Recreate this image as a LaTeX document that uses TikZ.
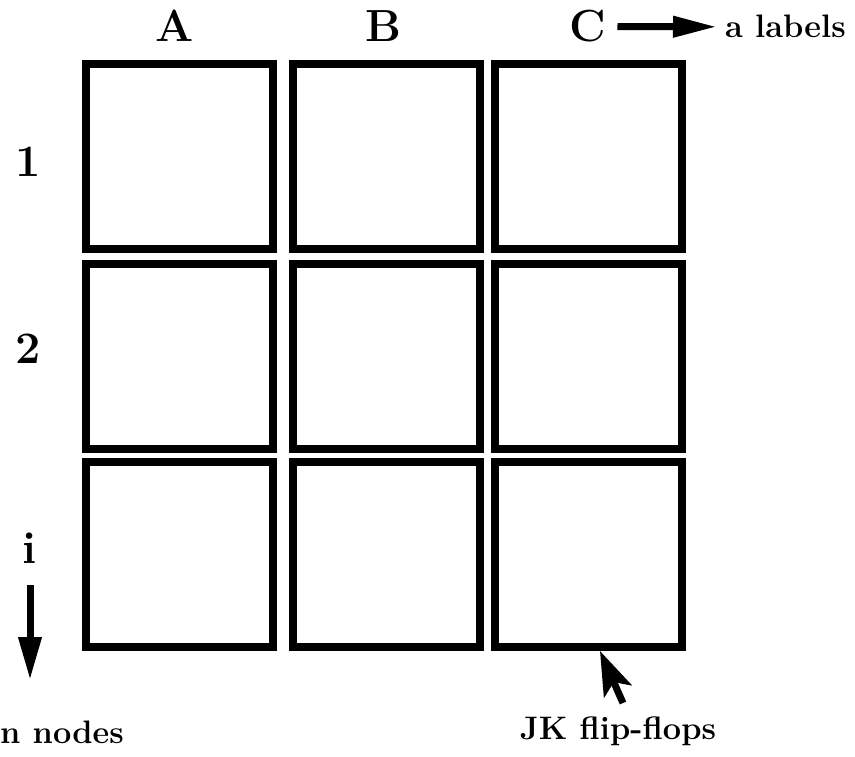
\documentclass[tikz,border=0pt]{standalone}
\usepackage{fontspec}
\usetikzlibrary{arrows.meta}
\begin{document}
\begin{tikzpicture}[x=1pt,y=-1pt,
  cell/.style={draw, line width=8pt, minimum width=187pt, minimum height=185pt, inner sep=0pt},
  big/.style={font=\fontsize{45}{48}\selectfont\bfseries, inner sep=0pt, anchor=base},
  lab/.style={font=\fontsize{32.5}{36}\selectfont\bfseries, inner sep=0pt, anchor=base},
  thickarrow/.style={line width=7pt}]
\useasboundingbox (0,0) rectangle (855,757);
\fill[white] (0,0) rectangle (855,757);
% grid of flip-flops
\node[cell] (a1) at (179,156.5) {};
\node[cell] (b1) at (386.5,156.5) {};
\node[cell] (c1) at (588,156.5) {};
\node[cell] (a2) at (179,356) {};
\node[cell] (b2) at (386.5,356) {};
\node[cell] (c2) at (588,356) {};
\node[cell] (a3) at (179,554.5) {};
\node[cell] (b3) at (386.5,554.5) {};
\node[cell] (c3) at (588,554.5) {};
% column labels
\node[big] (lA) at (175,42) {A};
\node[big] (lB) at (383,42) {B};
\node[big] (lC) at (588,42) {C};
\node[lab, anchor=base west] (al) at (725,38) {a labels};
\draw[thickarrow, -{Triangle[length=44pt,width=20pt]}, shorten <=11pt, shorten >=8pt] (lC.east) -- (al.west);
% row labels
\node[big] (r1) at (28,177) {1};
\node[big] (r2) at (28,363) {2};
\node[big] (ri) at (30,563) {i};
\coordinate (ib) at (30,680);
\draw[thickarrow, -{Triangle[length=43pt,width=22pt]}, shorten <=22pt] (ri.south) -- (ib);
\node[lab, anchor=base west] (nn) at (0,743) {n nodes};
% JK flip-flops
\node[lab] (jk) at (618,739) {JK flip-flops};
\coordinate (jt) at (623,703);
\coordinate (jh) at (600,651);
\draw[thickarrow, -{Stealth[length=44pt,width=30pt,inset=10pt]}] (jt) -- (jh);
\end{tikzpicture}
\end{document}
